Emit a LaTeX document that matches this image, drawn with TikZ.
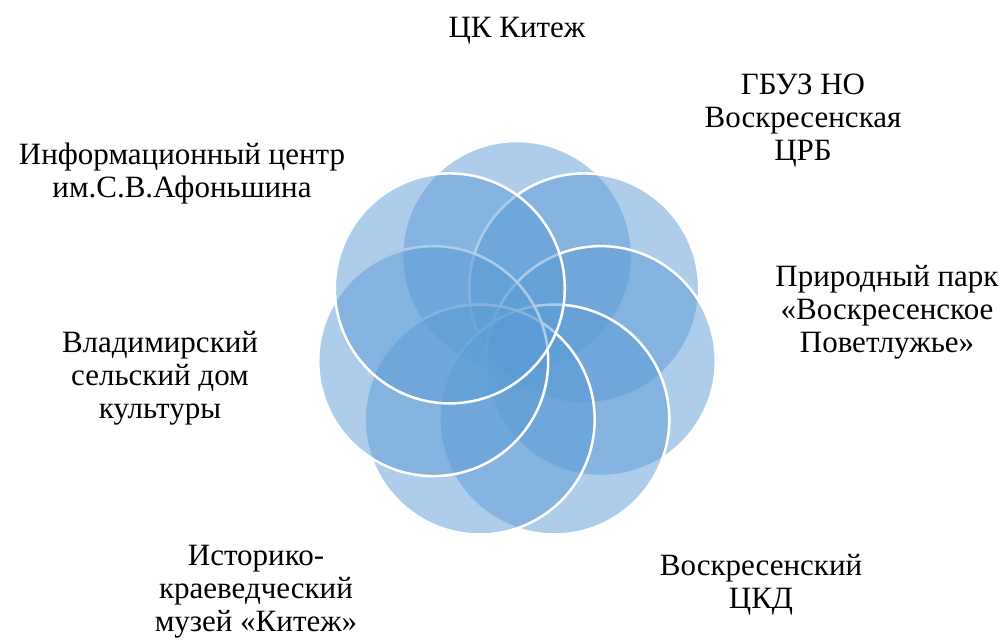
\documentclass[tikz,border=0pt]{standalone}
\usepackage{fontspec}
\setmainfont{Liberation Serif}
\newfontfamily\orgfont{Liberation Serif}
\definecolor{vennblue}{HTML}{5B9BD5}
\tikzstyle{petal} = [circle, draw=white, line width=1.9pt, fill=vennblue, fill opacity=0.5, minimum size=172.5pt, inner sep=0pt]
\tikzstyle{orgname} = [align=center, font=\orgfont\fontsize{23.25}{24.75}\selectfont]

\begin{document}
\begin{tikzpicture}[x=0.75pt, y=-0.75pt]
		\useasboundingbox (0, 0) rectangle (1006, 640);
		\coordinate (top)   at (517,   256);
		\coordinate (upr)   at (584.2, 288.4);
		\coordinate (rgt)   at (600.8, 361.1);
		\coordinate (lwr)   at (554.3, 419.5);
		\coordinate (lwl)   at (479.7, 419.5);
		\coordinate (lft)   at (433.2, 361.1);
		\coordinate (upl)   at (449.8, 288.4);

		\node[petal] (P1) at (top) {};
		\node[petal] (P2) at (upr) {};
		\node[petal] (P3) at (rgt) {};
		\node[petal] (P4) at (lwr) {};
		\node[petal] (P5) at (lwl) {};
		\node[petal] (P6) at (lft) {};
		\node[petal] (P7) at (upl) {};

		\node[orgname] (CK)  at (517, 31)  {ЦК Китеж};
		\node[orgname] (CRB) at (803, 121) {ГБУЗ НО\\Воскресенская\\ЦРБ};
		\node[orgname] (PRK) at (887, 312) {Природный парк\\«Воскресенское\\Поветлужье»};
		\node[orgname] (CKD) at (761, 585) {Воскресенский\\ЦКД};
		\node[orgname] (MUZ) at (256, 592) {Историко-\\краеведческий\\музей «Китеж»};
		\node[orgname] (SDK) at (160, 378) {Владимирский\\сельский дом\\культуры};
		\node[orgname] (INF) at (182, 174) {Информационный центр\\им.С.В.Афоньшина};
	\end{tikzpicture}
\end{document}
